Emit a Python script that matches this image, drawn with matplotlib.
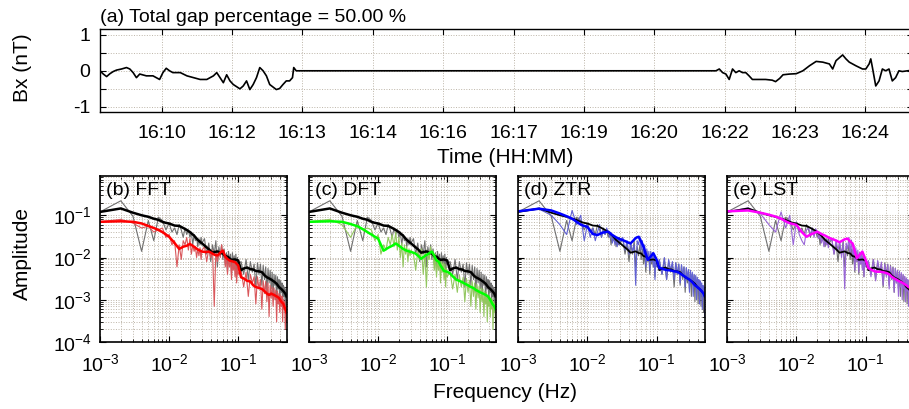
import matplotlib
matplotlib.use('Agg')
import matplotlib.pyplot as plt
import matplotlib.ticker as mticker
import numpy as np

plt.rcParams['font.family'] = ['Liberation Sans', 'DejaVu Sans']
plt.rcParams['mathtext.fontset'] = 'custom'
plt.rcParams['mathtext.rm'] = 'Liberation Sans'
plt.rcParams['axes.unicode_minus'] = False

# ---- panel (a): Bx time series, seconds from start of window ----
bx_time = [0, 4, 8, 12, 16, 20, 26, 32, 36, 40, 44, 48, 56, 64, 72, 76, 80, 84, 88, 97,
           105, 113, 121, 129, 137, 141, 145, 149, 153, 157, 161, 169, 173, 177, 181, 185,
           189, 193, 197, 201, 205, 209, 213, 217, 221, 225, 229, 232.5, 234, 237, 243,
           738, 744, 748, 752, 756, 760, 764, 768, 772, 776, 780, 784, 788, 796, 804, 812,
           816, 821, 825, 833, 841, 849, 857, 865, 873, 881, 885, 889, 897, 901, 905, 913,
           921, 925, 929, 931, 933, 937, 941, 945, 949, 953, 957, 961, 965, 969, 982]
bx_val = [0, -0.09, -0.16, -0.08, -0.02, 0.02, 0.05, 0.09, 0.05, -0.05, -0.19, -0.09, -0.14,
          -0.14, -0.24, -0.05, 0.07, 0, -0.05, -0.05, -0.14, -0.19, -0.24, -0.24, -0.14, -0.05,
          -0.19, -0.33, -0.11, -0.28, -0.38, -0.5, -0.42, -0.28, -0.52, -0.38, -0.19, 0.09, 0,
          -0.14, -0.38, -0.45, -0.52, -0.49, -0.38, -0.28, -0.28, -0.19, 0.09, 0, 0,
          0, 0, 0.05, -0.05, -0.09, -0.24, 0.05, -0.05, 0, -0.05, -0.05, -0.14, -0.24, -0.24,
          -0.24, -0.26, -0.3, -0.21, -0.11, -0.09, -0.08, 0, 0.14, 0.26, 0.24, 0.19, 0.05, 0.28,
          0.44, 0.33, 0.24, 0.14, 0.05, 0.05, 0.19, 0.33, 0.09, -0.42, -0.28, 0.05, 0, 0.05,
          -0.28, -0.19, 0, -0.02, 0.02]
time_tick_pos = [74.5, 159.5, 244.5, 329.5, 414.5, 499.5, 584.5, 669.5, 754.5, 839.5, 924.5]
time_tick_lab = ['16:10', '16:12', '16:13', '16:14', '16:16', '16:17', '16:19', '16:20',
                 '16:22', '16:23', '16:24']

# ---- spectra: raw (thin) lines, frequency in mHz ----
freq_raw_mhz = [1, 2, 3, 4, 5, 6, 7, 8, 9, 10, 11, 12, 13, 14, 15, 16, 17, 18, 19, 20,
                21, 22, 23, 24, 25, 26, 27, 28, 29, 30,
                32.5, 35, 37.5, 40, 42.5, 45, 47.5, 50, 52.5, 55, 57.5, 60, 62.5, 65, 67.5,
                70, 72.5, 75, 77.5, 80, 82.5, 85, 87.5, 90, 92.5, 95, 97.5, 100,
                110, 120, 130, 140, 150, 160, 170, 180, 190, 200, 210, 220, 230, 240, 250,
                260, 270, 280, 290, 300, 310, 320, 330, 340, 350, 360, 370, 380, 390, 400,
                410, 420, 430, 440, 450, 460, 470, 480, 490, 500]
ref_raw = [0.12, 0.22, 0.095, 0.014, 0.075, 0.025, 0.09, 0.075, 0.045, 0.065,
           0.04, 0.05, 0.035, 0.06, 0.045, 0.03, 0.05, 0.035, 0.045, 0.03,
           0.04, 0.02, 0.035, 0.025, 0.03, 0.018, 0.028, 0.02, 0.03, 0.022,
           0.028, 0.012, 0.022, 0.008, 0.02, 0.012, 0.025, 0.006, 0.018, 0.011,
           0.02, 0.009, 0.016, 0.007, 0.013, 0.0045, 0.014, 0.008, 0.012, 0.004,
           0.013, 0.007, 0.011, 0.006, 0.012, 0.0035, 0.01, 0.007,
           0.008, 0.004, 0.009, 0.003, 0.008, 0.0045, 0.007, 0.002, 0.0075, 0.004,
           0.007, 0.0022, 0.0065, 0.003, 0.006, 0.0015, 0.0055, 0.0025, 0.005, 0.0018,
           0.0045, 0.0012, 0.004, 0.0022, 0.0038, 0.0009, 0.0035, 0.0018, 0.003, 0.0008,
           0.0028, 0.0015, 0.0025, 0.0007, 0.0022, 0.0012, 0.002, 0.0005, 0.0018, 0.0004]
fft_raw = [0.07, 0.08, 0.065, 0.05, 0.055, 0.04, 0.045, 0.05, 0.03, 0.035,
           0.02, 0.025, 0.006, 0.02, 0.009, 0.025, 0.02, 0.03, 0.015, 0.028,
           0.012, 0.02, 0.014, 0.018, 0.01, 0.016, 0.011, 0.017, 0.009, 0.015,
           0.018, 0.008, 0.016, 0.01, 0.015, 0.0007, 0.014, 0.008, 0.013, 0.01,
           0.02, 0.012, 0.015, 0.006, 0.011, 0.004, 0.01, 0.006, 0.009, 0.003,
           0.009, 0.005, 0.008, 0.0035, 0.0075, 0.0025, 0.006, 0.004,
           0.005, 0.002, 0.0045, 0.0012, 0.004, 0.0025, 0.0035, 0.0008, 0.0035, 0.0018,
           0.003, 0.0006, 0.0028, 0.0014, 0.0027, 0.0009, 0.0025, 0.0004, 0.0022, 0.0011,
           0.002, 0.0007, 0.0019, 0.001, 0.0017, 0.0003, 0.0016, 0.0008, 0.0014, 0.0005,
           0.0013, 0.0007, 0.0012, 0.0003, 0.001, 0.0006, 0.0009, 0.0002, 0.0007, 0.0003]
dft_raw = [0.07, 0.08, 0.06, 0.03, 0.06, 0.045, 0.05, 0.045, 0.025, 0.035,
           0.012, 0.02, 0.015, 0.03, 0.02, 0.035, 0.018, 0.04, 0.015, 0.03,
           0.01, 0.022, 0.006, 0.02, 0.012, 0.018, 0.008, 0.016, 0.011, 0.015,
           0.012, 0.005, 0.014, 0.009, 0.016, 0.004, 0.013, 0.002, 0.012, 0.009,
           0.018, 0.011, 0.014, 0.005, 0.012, 0.0035, 0.009, 0.005, 0.01, 0.0025,
           0.008, 0.0045, 0.0075, 0.003, 0.007, 0.002, 0.0055, 0.0035,
           0.0045, 0.0018, 0.004, 0.0015, 0.0038, 0.002, 0.0034, 0.0009, 0.0032, 0.0015,
           0.0029, 0.0007, 0.0027, 0.0012, 0.0025, 0.0006, 0.0023, 0.0011, 0.0021, 0.0005,
           0.0019, 0.0009, 0.0018, 0.0004, 0.0016, 0.0008, 0.0015, 0.0003, 0.0013, 0.0007,
           0.0012, 0.0004, 0.0011, 0.0006, 0.001, 0.0002, 0.0009, 0.0005, 0.0008, 0.0003]
ztr_raw = [0.12, 0.14, 0.10, 0.06, 0.035, 0.13, 0.06, 0.1, 0.025, 0.06,
           0.03, 0.05, 0.025, 0.04, 0.06, 0.03, 0.045, 0.035, 0.05, 0.04,
           0.03, 0.038, 0.022, 0.032, 0.02, 0.03, 0.018, 0.028, 0.02, 0.026,
           0.03, 0.015, 0.025, 0.012, 0.022, 0.014, 0.02, 0.0022, 0.025, 0.02,
           0.032, 0.015, 0.025, 0.012, 0.02, 0.006, 0.016, 0.009, 0.014, 0.005,
           0.014, 0.008, 0.013, 0.006, 0.011, 0.003, 0.01, 0.006,
           0.009, 0.004, 0.01, 0.003, 0.009, 0.005, 0.008, 0.003, 0.0075, 0.004,
           0.007, 0.0025, 0.0068, 0.0035, 0.006, 0.002, 0.0058, 0.003, 0.0052, 0.0015,
           0.005, 0.0025, 0.0045, 0.0012, 0.004, 0.002, 0.0038, 0.001, 0.0034, 0.0018,
           0.003, 0.0008, 0.0028, 0.0015, 0.0025, 0.0006, 0.0022, 0.0012, 0.002, 0.0004]
lst_raw = [0.12, 0.15, 0.11, 0.06, 0.04, 0.12, 0.05, 0.1, 0.02, 0.07,
           0.035, 0.025, 0.02, 0.045, 0.05, 0.035, 0.05, 0.03, 0.048, 0.04,
           0.028, 0.036, 0.022, 0.03, 0.018, 0.028, 0.02, 0.026, 0.017, 0.024,
           0.028, 0.012, 0.026, 0.015, 0.024, 0.01, 0.022, 0.0018, 0.022, 0.016,
           0.03, 0.013, 0.026, 0.01, 0.02, 0.005, 0.017, 0.008, 0.015, 0.0045,
           0.013, 0.007, 0.012, 0.005, 0.011, 0.0035, 0.009, 0.006,
           0.0085, 0.0035, 0.009, 0.0028, 0.0085, 0.0045, 0.0078, 0.0022, 0.007, 0.0035,
           0.0068, 0.0018, 0.0062, 0.003, 0.0058, 0.0015, 0.0055, 0.0025, 0.005, 0.0012,
           0.0048, 0.002, 0.0044, 0.001, 0.004, 0.0018, 0.0036, 0.0009, 0.0033, 0.0016,
           0.003, 0.0007, 0.0028, 0.0014, 0.0025, 0.0006, 0.0022, 0.0012, 0.002, 0.0005]

# ---- spectra: smoothed (thick) lines, frequency in mHz ----
freq_smooth_mhz = [1, 2, 3, 4, 5, 6, 7, 8, 9, 10, 12, 14, 16, 18, 20, 23, 26, 30, 34, 38,
                   42, 46, 50, 55, 60, 65, 70, 75, 80, 90, 100, 110, 120, 135, 150, 165,
                   180, 200, 220, 240, 260, 280, 300, 330, 360, 390, 420, 450, 480, 500]
ref_smooth = [0.12, 0.145, 0.115, 0.10, 0.092, 0.083, 0.078, 0.07, 0.066, 0.064,
              0.057, 0.056, 0.05, 0.045, 0.04, 0.033, 0.026, 0.0215, 0.018, 0.0155,
              0.013, 0.0135, 0.014, 0.0128, 0.0125, 0.0108, 0.0105, 0.0095, 0.0088, 0.009,
              0.0085, 0.005, 0.0055, 0.0058, 0.0053, 0.0052, 0.0048, 0.0047, 0.0045, 0.0038,
              0.0034, 0.0032, 0.003, 0.0027, 0.0024, 0.002, 0.0018, 0.0016, 0.0014, 0.0012]
fft_smooth = [0.07, 0.072, 0.07, 0.064, 0.056, 0.05, 0.045, 0.04, 0.035, 0.031,
              0.022, 0.016, 0.018, 0.019, 0.021, 0.018, 0.0155, 0.0138, 0.0135, 0.0138,
              0.0125, 0.0115, 0.0112, 0.013, 0.0145, 0.0105, 0.0092, 0.0085, 0.0082, 0.0078,
              0.0065, 0.0034, 0.0032, 0.0028, 0.0027, 0.0022, 0.002, 0.0019, 0.0018, 0.0016,
              0.0014, 0.0013, 0.0014, 0.0013, 0.0012, 0.0011, 0.0009, 0.0008, 0.0006, 0.0005]
dft_smooth = [0.07, 0.072, 0.07, 0.062, 0.055, 0.047, 0.04, 0.035, 0.031, 0.028,
              0.0145, 0.017, 0.019, 0.0215, 0.019, 0.016, 0.0145, 0.0135, 0.0127, 0.011,
              0.0093, 0.0105, 0.0115, 0.0126, 0.0138, 0.011, 0.0085, 0.008, 0.0065, 0.0048,
              0.0046, 0.0042, 0.0036, 0.003, 0.0028, 0.0026, 0.0024, 0.0022, 0.002, 0.0019,
              0.0017, 0.0016, 0.0015, 0.0014, 0.0013, 0.0012, 0.001, 0.0008, 0.0007, 0.0006]
ztr_smooth = [0.124, 0.143, 0.13, 0.11, 0.095, 0.083, 0.07, 0.06, 0.056, 0.053,
              0.036, 0.034, 0.038, 0.04, 0.041, 0.034, 0.03, 0.027, 0.025, 0.023,
              0.0215, 0.025, 0.029, 0.031, 0.024, 0.018, 0.012, 0.0088, 0.01, 0.0126,
              0.009, 0.0056, 0.0055, 0.0051, 0.005, 0.0049, 0.0047, 0.0046, 0.0042, 0.0038,
              0.0035, 0.0032, 0.003, 0.0026, 0.0022, 0.002, 0.0018, 0.0016, 0.0014, 0.0012]
lst_smooth = [0.124, 0.13, 0.115, 0.103, 0.093, 0.083, 0.072, 0.065, 0.062, 0.059,
              0.04, 0.031, 0.035, 0.038, 0.041, 0.036, 0.033, 0.029, 0.027, 0.025,
              0.023, 0.025, 0.027, 0.028, 0.024, 0.0215, 0.014, 0.0096, 0.011, 0.0138,
              0.009, 0.0056, 0.0052, 0.0047, 0.0046, 0.0046, 0.0045, 0.0043, 0.004, 0.0035,
              0.0032, 0.003, 0.0028, 0.0026, 0.0024, 0.0022, 0.002, 0.0019, 0.0017, 0.0015]

methods = ['(b) FFT', '(c) DFT', '(d) ZTR', '(e) LST']
raw_series = [fft_raw, dft_raw, ztr_raw, lst_raw]
smooth_series = [fft_smooth, dft_smooth, ztr_smooth, lst_smooth]
raw_colors = ['#d9585c', '#93c760', '#6262d4', '#9866d6']
smooth_colors = ['#ff0000', '#00ff00', '#0000ff', '#ff00ff']
ref_lw = [1.8, 1.8, 1.3, 1.3]

grid_kw = dict(color='#bdb5a8', linestyle=':', linewidth=0.7)
TICK_FS = 14
LABEL_FS = 15

fig = plt.figure(figsize=(9.09, 4.09), dpi=100)

# top panel
ax = fig.add_axes([100 / 909, (409 - 112.3) / 409, 813 / 909, 83 / 409])
ax.plot(bx_time, bx_val, color='black', lw=1.2)
ax.set_xlim(0, 982)
ax.set_ylim(-1.15, 1.15)
ax.set_xticks(time_tick_pos)
ax.set_xticklabels(time_tick_lab)
ax.set_yticks([-1, -0.5, 0, 0.5, 1])
ax.set_yticklabels(['-1', '', '0', '', '1'])
ax.grid(True, **grid_kw)
ax.tick_params(direction='in', top=True, right=True, length=4, labelsize=TICK_FS)
ax.tick_params(axis='x', pad=9)
ax.tick_params(axis='y', pad=7)
ax.text(0, 1.035, '(a) Total gap percentage = 50.00 %', transform=ax.transAxes,
        fontsize=14, ha='left', va='bottom')
for s in ax.spines.values():
    s.set_linewidth(1.0)
fig.text(22 / 909, 1 - 68 / 409, 'Bx (nT)', rotation=90, fontsize=LABEL_FS,
         ha='center', va='center')
fig.text(505 / 909, 1 - 157 / 409, 'Time (HH:MM)', fontsize=LABEL_FS,
         ha='center', va='center')

freq_raw = np.array(freq_raw_mhz) / 1000.0
freq_smooth = np.array(freq_smooth_mhz) / 1000.0

lefts = [100, 309, 518.3, 727.3]
for i, name in enumerate(methods):
    bx = fig.add_axes([lefts[i] / 909, (409 - 342) / 409, 186.5 / 909, 166 / 409])
    bx.set_xscale('log')
    bx.set_yscale('log')
    bx.plot(freq_raw, ref_raw, color='#707070', lw=0.8)
    bx.plot(freq_raw, raw_series[i], color=raw_colors[i], lw=0.8)
    bx.plot(freq_smooth, ref_smooth, color='black', lw=ref_lw[i])
    bx.plot(freq_smooth, smooth_series[i], color=smooth_colors[i], lw=1.8)
    bx.set_xlim(1e-3, 0.5)
    bx.set_ylim(1e-4, 0.85)
    bx.xaxis.set_major_locator(mticker.LogLocator(base=10, numticks=10))
    bx.yaxis.set_major_locator(mticker.LogLocator(base=10, numticks=10))
    bx.grid(True, which='both', **grid_kw)
    bx.tick_params(which='both', direction='in', top=True, right=True, labelsize=TICK_FS)
    bx.tick_params(which='major', length=4)
    bx.tick_params(which='minor', length=2)
    bx.tick_params(axis='x', which='both', pad=8)
    bx.tick_params(axis='y', which='both', pad=6)
    if i > 0:
        bx.set_yticklabels([])
    bx.text(0.03, 0.91, name, transform=bx.transAxes, fontsize=14, ha='left', va='center')
    for s in bx.spines.values():
        s.set_linewidth(1.2)

fig.text(22 / 909, 1 - 254 / 409, 'Amplitude', rotation=90, fontsize=LABEL_FS,
         ha='center', va='center')
fig.text(505 / 909, 1 - 393 / 409, 'Frequency (Hz)', fontsize=LABEL_FS,
         ha='center', va='center')

plt.savefig('out.png', dpi=100)
